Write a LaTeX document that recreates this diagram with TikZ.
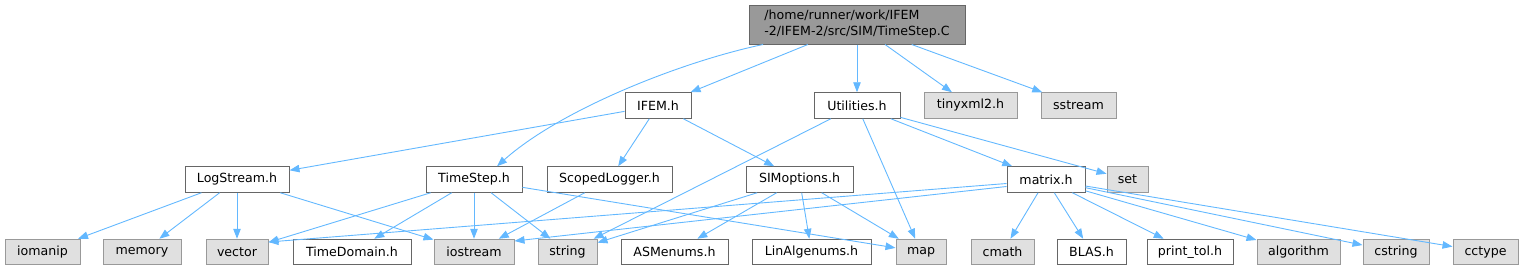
\documentclass[tikz,border=0pt]{standalone}
\usepackage{fontspec}
\setmainfont{DejaVu Sans}
\usetikzlibrary{arrows.meta}
\definecolor{edgeblue}{HTML}{63B8FF}
\definecolor{wborder}{HTML}{666666}
\definecolor{gborder}{HTML}{999999}
\definecolor{gfill}{HTML}{E0E0E0}
\definecolor{rootfill}{HTML}{999999}
\tikzset{
  box/.style={draw, line width=1pt, inner sep=0pt, minimum height=25.5pt,
    font=\fontsize{12.6}{16}\selectfont, text=black},
  wnode/.style={box, draw=wborder, fill=white},
  gnode/.style={box, draw=gborder, fill=gfill},
  rnode/.style={box, draw=wborder, fill=rootfill, align=left, minimum height=39pt},
  edge/.style={draw=edgeblue, line width=0.9pt, -{Triangle[length=10pt,width=7.5pt]}}
}
\begin{document}
\begin{tikzpicture}[x=1pt,y=1pt]
\useasboundingbox (0,0) rectangle (1534,-271);
% row 1
\node[rnode, minimum width=216pt] (root) at (857,-24.5) {/home/runner/work/IFEM\\-2/IFEM-2/src/SIM/TimeStep.C};
% row 2
\node[wnode, minimum width=66pt] (ifem) at (658,-105.5) {IFEM.h};
\node[wnode, minimum width=86pt] (util) at (857,-105.5) {Utilities.h};
\node[gnode, minimum width=93pt] (tinyxml) at (970.5,-105.5) {tinyxml2.h};
\node[gnode, minimum width=75pt] (sstream) at (1078.5,-105.5) {sstream};
% row 3
\node[wnode, minimum width=104pt] (logstream) at (237,-179.5) {LogStream.h};
\node[wnode, minimum width=96pt] (timestep) at (474,-179.5) {TimeStep.h};
\node[wnode, minimum width=125pt] (scoped) at (609.5,-179.5) {ScopedLogger.h};
\node[wnode, minimum width=107pt] (simopt) at (799.5,-179.5) {SIMoptions.h};
\node[wnode, minimum width=78pt] (matrix) at (1046,-179.5) {matrix.h};
\node[gnode, minimum width=41pt] (set) at (1127.5,-179.5) {set};
% row 4
\node[gnode, minimum width=75pt] (iomanip) at (42.5,-252) {iomanip};
\node[gnode, minimum width=78pt] (memory) at (142,-252) {memory};
\node[gnode, minimum width=62pt] (vector) at (237,-252) {vector};
\node[wnode, minimum width=118pt] (timedomain) at (352,-252) {TimeDomain.h};
\node[gnode, minimum width=80pt] (iostream) at (474,-252) {iostream};
\node[gnode, minimum width=59pt] (string) at (567.5,-252) {string};
\node[wnode, minimum width=107pt] (asmenums) at (674.5,-252) {ASMenums.h};
\node[wnode, minimum width=119pt] (linalg) at (811.5,-252) {LinAlgenums.h};
\node[gnode, minimum width=50pt] (map) at (921,-252) {map};
\node[gnode, minimum width=63pt] (cmath) at (1002.5,-252) {cmath};
\node[wnode, minimum width=69pt] (blas) at (1091.5,-252) {BLAS.h};
\node[wnode, minimum width=86pt] (printtol) at (1190,-252) {print\_tol.h};
\node[gnode, minimum width=83pt] (algorithm) at (1298.5,-252) {algorithm};
\node[gnode, minimum width=66pt] (cstring) at (1396,-252) {cstring};
\node[gnode, minimum width=65pt] (cctype) at (1485.5,-252) {cctype};
% edges from root
\draw[edge] (root) -- (ifem);
\draw[edge] ([xshift=-94pt]root.south) .. controls (680,-62) and (560,-110) .. ([xshift=23pt]timestep.north);
\draw[edge] (root) -- (util);
\draw[edge] (root) -- (tinyxml);
\draw[edge] (root) -- (sstream);
% IFEM.h
\draw[edge] (ifem) -- (logstream);
\draw[edge] (ifem) -- (scoped);
\draw[edge] (ifem) -- (simopt);
% Utilities.h
\draw[edge] (util) -- (string);
\draw[edge] (util) -- (map);
\draw[edge] (util) -- (matrix);
\draw[edge] (util) -- (set);
% LogStream.h
\draw[edge] (logstream) -- (iomanip);
\draw[edge] (logstream) -- (memory);
\draw[edge] (logstream) -- (vector);
\draw[edge] (logstream) -- (iostream);
% TimeStep.h
\draw[edge] (timestep) -- (vector);
\draw[edge] (timestep) -- (timedomain);
\draw[edge] (timestep) -- (iostream);
\draw[edge] (timestep) -- (string);
\draw[edge] (timestep) -- (map);
% ScopedLogger.h
\draw[edge] (scoped) -- (iostream);
% SIMoptions.h
\draw[edge] (simopt) -- (string);
\draw[edge] (simopt) -- (asmenums);
\draw[edge] (simopt) -- (linalg);
\draw[edge] (simopt) -- (map);
% matrix.h
\draw[edge] ([yshift=-4pt]matrix.west) -- ([yshift=10pt]vector.east);
\draw[edge] ([yshift=-7pt]matrix.west) -- ([yshift=11pt]iostream.east);
\draw[edge] (matrix) -- (cmath);
\draw[edge] (matrix) -- (blas);
\draw[edge] (matrix) -- (printtol);
\draw[edge] (matrix) -- (algorithm);
\draw[edge] (matrix) -- (cstring);
\draw[edge] (matrix) -- (cctype);
\end{tikzpicture}
\end{document}
